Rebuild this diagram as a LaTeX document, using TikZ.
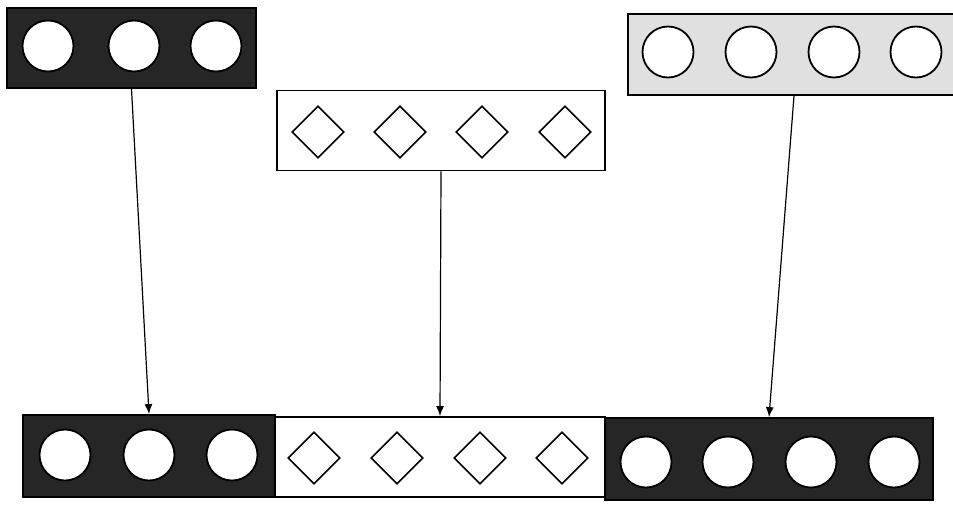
\documentclass[tikz,border=0pt]{standalone}
\usetikzlibrary{arrows.meta,shapes.geometric}

\begin{document}
\begin{tikzpicture}[
  x=1pt,y=-1pt,>={Latex[length=10pt,width=8pt]},
  strip/.style={draw,line width=1.8pt,inner sep=0pt,minimum height=80pt},
  darkstrip/.style={strip,fill=black!85},
  lightstrip/.style={strip,fill=black!12},
  plainstrip/.style={strip,fill=white},
  hole/.style={circle,draw,line width=1.8pt,fill=white,minimum size=51pt,inner sep=0pt},
  rhomb/.style={diamond,draw,line width=1.6pt,fill=white,aspect=1,minimum size=52pt,inner sep=0pt},
  feed/.style={->,line width=1.2pt}
]
\useasboundingbox (0,0) rectangle (953,507);

% upper strips
\node[darkstrip,minimum width=249pt]  (tl) at (131.5,48) {};
\node[plainstrip,minimum width=328pt] (tm) at (441,130.5) {};
\node[lightstrip,minimum width=332pt,minimum height=81pt] (tr) at (794,54.5) {};

% lower, joined strip
\node[darkstrip,minimum width=252pt,minimum height=82pt]  (bl) at (149,456) {};
\node[plainstrip,minimum width=330pt] (bm) at (440,457) {};
\node[darkstrip,minimum width=328pt,minimum height=82pt]  (br) at (769,459) {};

% holes and diamonds
\foreach \x [count=\i] in {48,134,216} \node[hole] (tl\i) at (\x,46) {};
\foreach \x [count=\i] in {668,751,834,916} \node[hole] (tr\i) at (\x,52) {};
\foreach \x [count=\i] in {318,400,482,565} \node[rhomb] (tm\i) at (\x,132) {};
\foreach \x [count=\i] in {65,149,232} \node[hole] (bl\i) at (\x,455) {};
\foreach \x [count=\i] in {314,397,480,562} \node[rhomb] (bm\i) at (\x,458) {};
\foreach \x [count=\i] in {646,728,811,894} \node[hole] (br\i) at (\x,462) {};

\draw[feed] (tl.south) -- (bl.north);
\draw[feed] (tm.south) -- (bm.north);
\draw[feed] (tr.south) -- (br.north);
\end{tikzpicture}
\end{document}
